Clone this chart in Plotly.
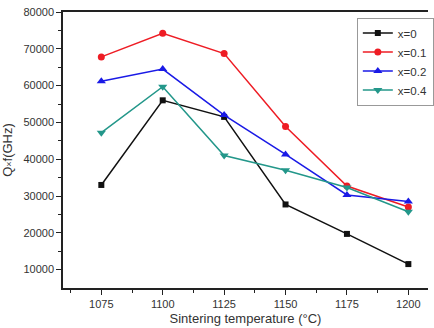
import plotly.graph_objects as go

temps = [1075, 1100, 1125, 1150, 1175, 1200]
series_names = ["x=0", "x=0.1", "x=0.2", "x=0.4"]
qf_x0 = [33000, 56000, 51500, 27700, 19700, 11500]
qf_x01 = [67800, 74200, 68700, 48900, 32700, 27000]
qf_x02 = [61200, 64500, 52000, 41300, 30300, 28500]
qf_x04 = [47200, 59700, 41000, 37000, 32300, 25700]
x_ticks = [1075, 1100, 1125, 1150, 1175, 1200]
y_ticks = [10000, 20000, 30000, 40000, 50000, 60000, 70000, 80000]

colors = ["#111111", "#ee1c24", "#1a1ae6", "#23978a"]
symbols = ["square", "circle", "triangle-up", "triangle-down"]
sizes = [6, 7, 8, 8]

fig = go.Figure()
for name, vals, c, s, sz in zip(series_names, [qf_x0, qf_x01, qf_x02, qf_x04], colors, symbols, sizes):
    fig.add_trace(go.Scatter(
        x=temps, y=vals, name=name, mode="lines+markers",
        line=dict(color=c, width=1.5),
        marker=dict(symbol=s, size=sz, color=c),
    ))

font = dict(family="Liberation Sans, Arial, sans-serif", size=11, color="#333333")
fig.update_layout(
    width=434, height=328,
    margin=dict(l=63, r=0, t=12, b=40),
    paper_bgcolor="white", plot_bgcolor="white",
    font=font,
    showlegend=True,
    legend=dict(
        x=0.805, y=0.98, xanchor="left", yanchor="top",
        bgcolor="white", bordercolor="#999999", borderwidth=1,
        font=dict(family="Liberation Sans, Arial, sans-serif", size=11.5, color="#333333"),
        itemwidth=30, tracegroupgap=0,
    ),
)
fig.update_xaxes(
    range=[1059.4, 1208], tickvals=x_ticks, ticktext=[str(t) for t in x_ticks],
    showgrid=False, zeroline=False,
    showline=True, linecolor="#222222", linewidth=1.5, mirror=True,
    ticks="outside", ticklen=5, tickwidth=1.2, tickcolor="#222222",
    minor=dict(tickvals=[1062.5, 1087.5, 1112.5, 1137.5, 1162.5, 1187.5], ticks="outside", ticklen=3, tickwidth=1.2, tickcolor="#222222"),
    title=dict(text="Sintering temperature (°C)", font=dict(size=13, color="#333333"), standoff=5),
)
fig.update_yaxes(
    range=[5000, 80000], tickvals=y_ticks, ticktext=[str(t) for t in y_ticks],
    showgrid=False, zeroline=False,
    showline=True, linecolor="#222222", linewidth=1.5, mirror=False,
    ticks="outside", ticklen=5, tickwidth=1.2, tickcolor="#222222",
    minor=dict(tickvals=[15000, 25000, 35000, 45000, 55000, 65000, 75000], ticks="outside", ticklen=3, tickwidth=1.2, tickcolor="#222222"),
    title=dict(text="Q<span style='font-size:9px'>×</span>f(GHz)", font=dict(size=13, color="#333333"), standoff=8),
)

fig.write_html("out.html")
